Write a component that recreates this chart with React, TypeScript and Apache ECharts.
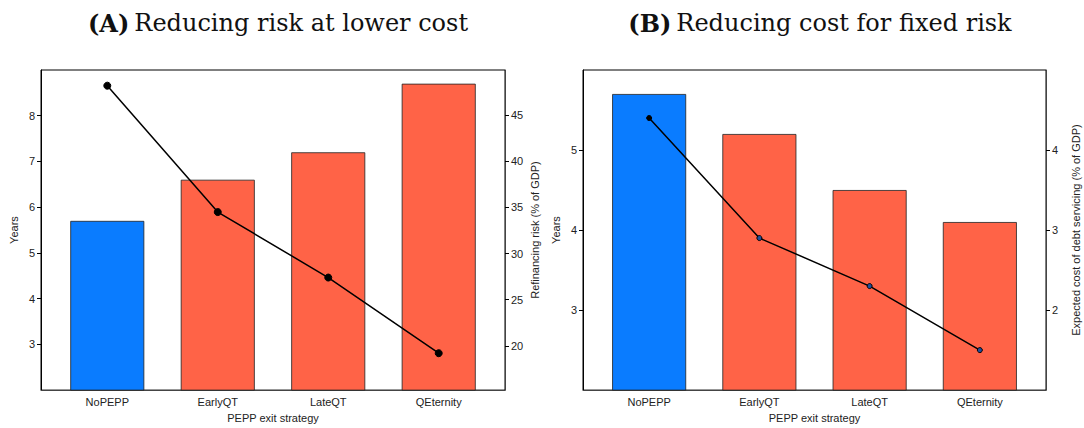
import React, { useEffect, useRef } from "react";
import * as echarts from "echarts";

// PEPP exit strategies
const strategies = ["NoPEPP", "EarlyQT", "LateQT", "QEternity"];

// Panel A: weighted average maturity (years) and refinancing risk (% of GDP)
const maturityA = [5.7, 6.6, 7.2, 8.7];
const refinancingRiskA = [48.2, 34.5, 27.4, 19.2];

// Panel B: weighted average maturity (years) and expected debt-servicing cost (% of GDP)
const maturityB = [5.7, 5.2, 4.5, 4.1];
const debtServiceCostB = [4.4, 2.9, 2.3, 1.5];

// Tick labels for the secondary axes
const riskTicks = [20, 25, 30, 35, 40, 45];
const costTicks = [2, 3, 4];

const BLUE = "#0a7cff";
const RED = "#ff6347";
const SANS = "'Liberation Sans', Arial, sans-serif";
const SERIF = "'DejaVu Serif', 'Liberation Serif', serif";

const tickText = { fontFamily: SANS, fontSize: 11, color: "#222" };

function catAxis(gridIndex: number) {
  return {
    type: "value",
    gridIndex,
    min: -0.6,
    max: 3.6,
    axisLine: { show: true, onZero: false, lineStyle: { color: "#444", width: 1 } },
    axisTick: { show: false },
    splitLine: { show: false },
    axisLabel: {
      ...tickText,
      margin: 6,
      customValues: [0, 1, 2, 3],
      formatter: (v: number) => strategies[Math.round(v)] ?? "",
    },
    name: "PEPP exit strategy",
    nameLocation: "middle",
    nameGap: 21,
    nameTextStyle: { ...tickText },
  };
}

function leftAxis(gridIndex: number, min: number, max: number) {
  return {
    type: "value",
    gridIndex,
    position: "left",
    min,
    max,
    interval: 1,
    axisLine: { show: true, onZero: false, lineStyle: { color: "#000", width: 1 } },
    axisTick: { show: true, length: 4, lineStyle: { color: "#000" } },
    splitLine: { show: false },
    axisLabel: { ...tickText, margin: 6, showMinLabel: false, showMaxLabel: false },
    name: "Years",
    nameLocation: "middle",
    nameGap: 22,
    nameRotate: 90,
    nameTextStyle: { ...tickText },
  };
}

function rightAxis(gridIndex: number, min: number, max: number, ticks: number[], name: string) {
  return {
    type: "value",
    gridIndex,
    position: "right",
    min,
    max,
    axisLine: { show: true, onZero: false, lineStyle: { color: "#444", width: 1 } },
    axisTick: { show: true, length: 4, customValues: ticks, lineStyle: { color: "#000" } },
    splitLine: { show: false },
    axisLabel: { ...tickText, margin: 6, customValues: ticks },
    name,
    nameLocation: "middle",
    nameGap: 24,
    nameRotate: 90,
    nameTextStyle: { ...tickText },
  };
}

function barSeries(axisIdx: number, values: number[]) {
  return {
    type: "bar",
    xAxisIndex: axisIdx,
    yAxisIndex: axisIdx * 2,
    barWidth: 74,
    z: 2,
    data: values.map((v, i) => ({
      value: [i, v],
      itemStyle: { color: i === 0 ? BLUE : RED },
    })),
    itemStyle: { borderColor: "#222", borderWidth: 0.8 },
  };
}

function lineSeries(axisIdx: number, values: number[], size: number, fill: string) {
  return {
    type: "line",
    xAxisIndex: axisIdx,
    yAxisIndex: axisIdx * 2 + 1,
    z: 5,
    symbol: "circle",
    symbolSize: size,
    showSymbol: true,
    lineStyle: { color: "#000", width: 1.5 },
    itemStyle: { borderColor: "#000", borderWidth: 1 },
    data: values.map((v, i) => ({
      value: [i, v],
      itemStyle: { color: i === 0 ? "#000" : fill },
    })),
  };
}

function panelTitle(letter: string, text: string, center: number) {
  return {
    text: `{b|(${letter})} {r|${text}}`,
    left: center,
    top: 6,
    textAlign: "center",
    textStyle: {
      fontWeight: "normal",
      rich: {
        b: { fontFamily: SERIF, fontSize: 24, fontWeight: "bold", color: "#111" },
        r: { fontFamily: SERIF, fontSize: 24, fontWeight: "normal", color: "#111" },
      },
    },
  };
}

export default function App() {
  const ref = useRef<HTMLDivElement>(null);

  useEffect(() => {
    if (!ref.current) return;
    const chart = echarts.init(ref.current, null, { renderer: "svg" });
    chart.setOption({
      animation: false,
      backgroundColor: "#fff",
      title: [
        panelTitle("A", "Reducing risk at lower cost", 273),
        panelTitle("B", "Reducing cost for fixed risk", 815),
      ],
      grid: [
        { left: 41, top: 70, width: 464, height: 325, show: true, borderColor: "#000", borderWidth: 1, backgroundColor: "transparent" },
        { left: 583, top: 70, width: 463, height: 325, show: true, borderColor: "#000", borderWidth: 1, backgroundColor: "transparent" },
      ],
      xAxis: [catAxis(0), catAxis(1)],
      yAxis: [
        leftAxis(0, 2, 9),
        rightAxis(0, 15.2, 49.9, riskTicks, "Refinancing risk (% of GDP)"),
        leftAxis(1, 2, 6),
        rightAxis(1, 1, 5, costTicks, "Expected cost of debt servicing (% of GDP)"),
      ],
      series: [
        barSeries(0, maturityA),
        lineSeries(0, refinancingRiskA, 7, "#000"),
        barSeries(1, maturityB),
        lineSeries(1, debtServiceCostB, 5, "#1f4e9c"),
      ],
    });
    return () => chart.dispose();
  }, []);

  return (
    <div
      ref={ref}
      style={{ position: "fixed", left: 0, top: 0, width: 1084, height: 428 }}
    />
  );
}
